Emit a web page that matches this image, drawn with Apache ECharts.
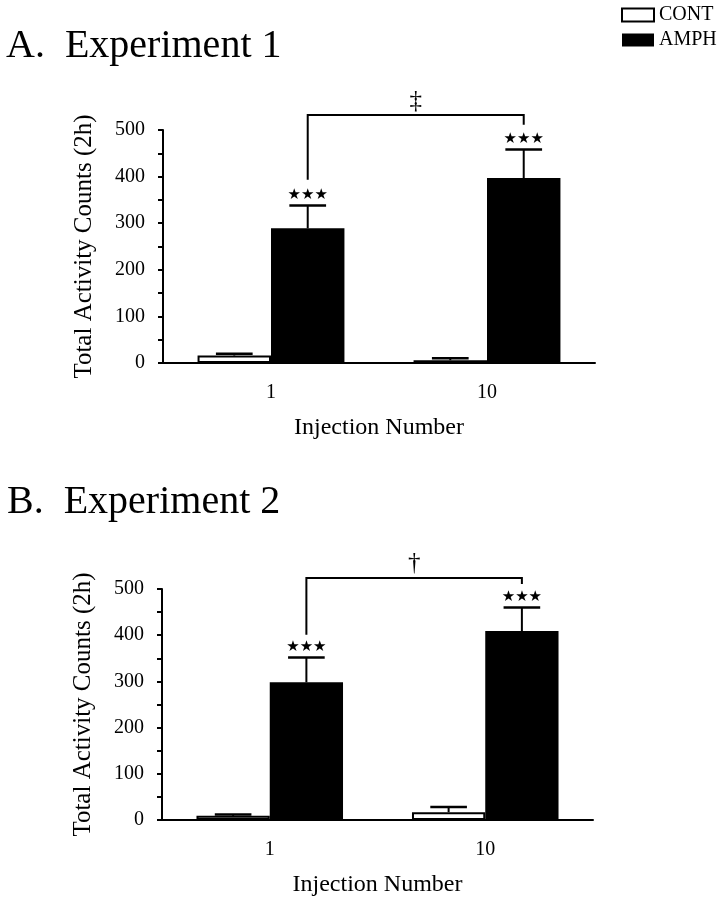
<!DOCTYPE html>
<html>
<head>
<meta charset="utf-8">
<script src="https://cdn.jsdelivr.net/npm/echarts@6/dist/echarts.min.js"></script>
<style>
  html, body { margin: 0; padding: 0; background: #fff; }
  #chart { width: 724px; height: 899px; }
</style>
</head>
<body>
<div id="chart"></div>
<script>
// --- data ---
var categories = ['1', '10'];
var contA = [16, 6];
var contASem = [4, 4];
var amphA = [289, 397];
var amphASem = [49, 61];
var contB = [9, 17];
var contBSem = [3, 11];
var amphB = [298, 409];
var amphBSem = [54, 51];
// bracket: left end, right end, top (counts)
var bracketA = [393, 511, 532];
var bracketB = [401, 511, 524];
var signifA = '‡';
var signifB = '†';
var stars = '★★★';

var SERIF = 'Liberation Serif';
var GAP = 0.32;

function errorSeries(grid, means, sems, side, mark) {
  return {
    type: 'custom',
    name: 'sem',
    xAxisIndex: grid, yAxisIndex: grid,
    clip: false, silent: true, z: 5,
    data: means.map(function (m, i) { return [i, m, m + sems[i]]; }),
    encode: { x: 0, y: [1, 2] },
    renderItem: function (params, api) {
      var band = api.size([1, 0])[0];
      var barW = band * (1 - GAP) / 2;
      var base = api.coord([api.value(0), api.value(1)]);
      var top = api.coord([api.value(0), api.value(2)]);
      var x = base[0] + side * barW / 2;
      var half = barW / 4;
      var kids = [
        { type: 'line', shape: { x1: x, y1: base[1], x2: x, y2: top[1] }, style: { stroke: '#000', lineWidth: 2 } },
        { type: 'line', shape: { x1: x - half, y1: top[1], x2: x + half, y2: top[1] }, style: { stroke: '#000', lineWidth: 2.5 } }
      ];
      if (mark) {
        kids.push({ type: 'text', x: x, y: top[1] - 10,
          style: { text: mark, fill: '#000', font: '15px "DejaVu Sans"', align: 'center', verticalAlign: 'middle' } });
      }
      return { type: 'group', children: kids };
    }
  };
}

function bracketSeries(grid, b, mark) {
  return {
    type: 'custom',
    name: 'bracket',
    xAxisIndex: grid, yAxisIndex: grid,
    clip: false, silent: true, z: 5,
    data: [[0, 1, b[0], b[1], b[2]]],
    encode: { x: [0, 1], y: [2, 3, 4] },
    renderItem: function (params, api) {
      var band = api.size([1, 0])[0];
      var off = band * (1 - GAP) / 4;
      var l = api.coord([api.value(0), api.value(2)]);
      var r = api.coord([api.value(1), api.value(3)]);
      var t = api.coord([api.value(0), api.value(4)])[1];
      var xl = l[0] + off, xr = r[0] + off;
      return { type: 'group', children: [
        { type: 'polyline', shape: { points: [[xl, l[1]], [xl, t], [xr, t], [xr, r[1]]] },
          style: { stroke: '#000', lineWidth: 2, fill: null } },
        { type: 'text', x: (xl + xr) / 2, y: t - 14,
          style: { text: mark, fill: '#000', font: '25px "' + SERIF + '"', align: 'center', verticalAlign: 'middle' } }
      ] };
    }
  };
}

function xAxisOf(grid) {
  return {
    type: 'category', gridIndex: grid, data: categories,
    name: 'Injection Number', nameLocation: 'middle', nameGap: 53,
    nameTextStyle: { color: '#000', fontFamily: SERIF, fontSize: 24 },
    axisLine: { lineStyle: { color: '#000', width: 2 } },
    axisTick: { alignWithLabel: true, length: 5, lineStyle: { color: '#000', width: 2 } },
    axisLabel: { color: '#000', fontFamily: SERIF, fontSize: 20, margin: 20 }
  };
}

function yAxisOf(grid) {
  return {
    type: 'value', gridIndex: grid, min: 0, max: 500, interval: 100,
    name: 'Total Activity Counts (2h)', nameLocation: 'middle', nameGap: 66,
    nameTextStyle: { color: '#000', fontFamily: SERIF, fontSize: 25 },
    axisLine: { show: true, lineStyle: { color: '#000', width: 2 } },
    axisTick: { show: true, length: 5, lineStyle: { color: '#000', width: 2 } },
    minorTick: { show: true, splitNumber: 2, length: 5, lineStyle: { color: '#000', width: 2 } },
    splitLine: { show: false },
    axisLabel: { color: '#000', fontFamily: SERIF, fontSize: 20, margin: 18 }
  };
}

function barSeries(name, grid, values, filled) {
  return {
    type: 'bar', name: name,
    xAxisIndex: grid, yAxisIndex: grid,
    data: values,
    barGap: '0%', barCategoryGap: (GAP * 100) + '%',
    itemStyle: filled ? { color: '#000' } : { color: '#fff', borderColor: '#000', borderWidth: 2 }
  };
}

var chart = echarts.init(document.getElementById('chart'), null, { renderer: 'canvas' });
chart.setOption({
  animation: false,
  backgroundColor: '#fff',
  legend: {
    orient: 'vertical', left: 621, top: 5, padding: 0,
    itemWidth: 32, itemHeight: 13, itemGap: 5,
    textStyle: { color: '#000', fontFamily: SERIF, fontSize: 20 },
    data: [
      { name: 'CONT', icon: 'rect', itemStyle: { color: '#fff', borderColor: '#000', borderWidth: 2 } },
      { name: 'AMPH', icon: 'rect', itemStyle: { color: '#000' } }
    ]
  },
  graphic: [
    { type: 'text', left: 6, top: 26, style: { text: 'A.  Experiment 1', fill: '#000', font: '40px "' + SERIF + '"' } },
    { type: 'text', left: 7, top: 482, style: { text: 'B.  Experiment 2', fill: '#000', font: '40px "' + SERIF + '"' } }
  ],
  grid: [
    { left: 163, right: 129, top: 130, height: 233 },
    { left: 162, right: 131, top: 589, height: 231 }
  ],
  xAxis: [xAxisOf(0), xAxisOf(1)],
  yAxis: [yAxisOf(0), yAxisOf(1)],
  series: [
    barSeries('CONT', 0, contA, false),
    barSeries('AMPH', 0, amphA, true),
    barSeries('CONT', 1, contB, false),
    barSeries('AMPH', 1, amphB, true),
    errorSeries(0, contA, contASem, -1, null),
    errorSeries(0, amphA, amphASem, 1, stars),
    errorSeries(1, contB, contBSem, -1, null),
    errorSeries(1, amphB, amphBSem, 1, stars),
    bracketSeries(0, bracketA, signifA),
    bracketSeries(1, bracketB, signifB)
  ]
});
window.addEventListener('resize', function () { chart.resize(); });
</script>
</body>
</html>
